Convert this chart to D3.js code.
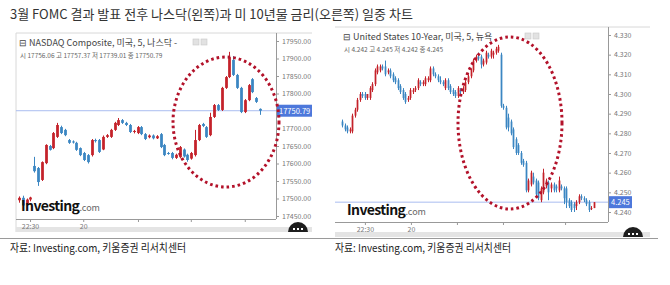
<!DOCTYPE html>
<html>
<head>
<meta charset="utf-8">
<script src="https://cdn.jsdelivr.net/npm/d3@7/dist/d3.min.js"></script>
<style>
  body { margin: 0; background: #fff; }
  text { font-family: "Noto Sans CJK KR", "Noto Sans", sans-serif; }
</style>
</head>
<body>
<script>
// NASDAQ Composite, 5-min candles [open, high, low, close]
const nasdaqOHLC = [
  [17495,17506,17488,17502],[17502,17508,17476,17480],[17482,17500,17478,17497],[17497,17505,17492,17503],
  [17593,17619,17574,17578],[17587,17590,17536,17547],[17553,17606,17550,17604],[17601,17655,17598,17653],
  [17650,17653,17637,17639],[17644,17690,17641,17687],[17676,17716,17673,17710],[17704,17708,17684,17687],
  [17696,17699,17678,17681],[17667,17670,17656,17659],[17663,17666,17657,17660],[17659,17662,17636,17639],
  [17644,17646,17621,17624],[17630,17633,17607,17610],[17624,17627,17600,17604],[17624,17670,17620,17667],
  [17667,17671,17660,17664],[17667,17670,17630,17633],[17640,17680,17638,17676],[17676,17684,17673,17681],
  [17676,17699,17673,17696],[17696,17719,17693,17716],[17710,17730,17707,17724],[17724,17727,17713,17716],
  [17716,17719,17707,17710],[17710,17713,17687,17690],[17690,17696,17686,17693],[17687,17707,17684,17704],
  [17704,17707,17681,17684],[17684,17687,17667,17670],[17675,17683,17672,17680],[17680,17683,17669,17672],
  [17672,17681,17670,17678],[17684,17687,17644,17647],[17653,17656,17621,17624],[17630,17633,17625,17628],
  [17630,17633,17612,17616],[17616,17628,17613,17625],[17618,17650,17615,17647],[17640,17643,17617,17620],
  [17625,17628,17605,17610],[17614,17633,17611,17630],[17624,17696,17620,17667],[17667,17713,17664,17710],
  [17713,17716,17704,17707],[17704,17707,17673,17676],[17681,17745,17678,17733],[17733,17770,17730,17767],
  [17767,17770,17750,17753],[17753,17819,17750,17816],[17816,17850,17813,17847],[17847,17919,17844,17904],
  [17896,17907,17850,17853],[17853,17856,17813,17816],[17816,17819,17744,17747],[17747,17784,17744,17781],
  [17781,17827,17778,17824],[17841,17844,17801,17804],[17787,17790,17773,17776],[17756.06,17757.37,17739.01,17750.79]
];
// 17750 is covered by the last-price tag, so it is not listed
const nasdaqYTicks = [17450,17500,17550,17600,17650,17700,17800,17850,17900,17950];
const nasdaqLast = 17750.79;
const nasdaqTimeTicks = [3.4,17.3,31.6,45.4,59.5];
const nasdaqTimeLabels = ["22:30","20","","",""];

// US 10-Year yield, 5-min candles [open, high, low, close]
const ustOHLC = [
  [4.286,4.287,4.283,4.284],[4.284,4.285,4.281,4.282],[4.283,4.284,4.280,4.281],[4.281,4.283,4.280,4.282],
  [4.281,4.290,4.280,4.289],[4.289,4.293,4.288,4.292],[4.292,4.298,4.291,4.297],[4.297,4.301,4.296,4.300],
  [4.300,4.301,4.298,4.299],[4.300,4.301,4.297,4.298],[4.298,4.300,4.297,4.300],[4.298,4.304,4.297,4.303],
  [4.302,4.306,4.301,4.305],[4.305,4.313,4.304,4.312],[4.311,4.315,4.310,4.314],[4.312,4.315,4.311,4.314],
  [4.314,4.315,4.312,4.313],[4.314,4.317,4.309,4.310],[4.311,4.313,4.310,4.312],[4.312,4.313,4.308,4.309],
  [4.310,4.311,4.306,4.307],[4.308,4.309,4.305,4.306],[4.307,4.308,4.302,4.303],[4.304,4.305,4.300,4.301],
  [4.302,4.303,4.297,4.298],[4.300,4.301,4.295,4.296],[4.297,4.299,4.296,4.298],[4.298,4.303,4.297,4.302],
  [4.301,4.303,4.300,4.302],[4.302,4.304,4.301,4.303],[4.303,4.308,4.302,4.307],[4.306,4.307,4.304,4.305],
  [4.305,4.307,4.304,4.306],[4.305,4.309,4.304,4.308],[4.307,4.309,4.306,4.308],[4.307,4.314,4.306,4.313],
  [4.313,4.314,4.309,4.310],[4.310,4.311,4.308,4.309],[4.309,4.310,4.306,4.307],[4.307,4.309,4.305,4.306],
  [4.306,4.307,4.304,4.305],[4.303,4.308,4.302,4.307],[4.307,4.308,4.302,4.303],[4.304,4.305,4.300,4.301],
  [4.302,4.303,4.299,4.300],[4.301,4.302,4.298,4.299],[4.299,4.304,4.298,4.303],[4.302,4.303,4.300,4.301],
  [4.301,4.304,4.300,4.302],[4.302,4.307,4.301,4.306],[4.306,4.310,4.305,4.309],[4.309,4.313,4.308,4.312],
  [4.312,4.318,4.311,4.317],[4.317,4.320,4.316,4.319],[4.319,4.321,4.317,4.318],[4.319,4.320,4.313,4.315],
  [4.315,4.318,4.314,4.317],[4.316,4.322,4.315,4.321],[4.320,4.321,4.318,4.319],[4.319,4.323,4.318,4.322],
  [4.320,4.322,4.318,4.321],[4.321,4.324,4.320,4.323],[4.322,4.325,4.321,4.324],[4.320,4.321,4.293,4.294],
  [4.294,4.295,4.292,4.293],[4.293,4.294,4.282,4.283],[4.288,4.290,4.281,4.283],[4.286,4.287,4.279,4.280],
  [4.282,4.283,4.272,4.273],[4.277,4.278,4.269,4.270],[4.274,4.275,4.269,4.270],[4.270,4.271,4.264,4.265],
  [4.266,4.267,4.263,4.264],[4.265,4.266,4.250,4.251],[4.251,4.257,4.250,4.256],[4.254,4.261,4.253,4.260],
  [4.258,4.260,4.254,4.255],[4.256,4.257,4.248,4.249],[4.255,4.256,4.246,4.247],[4.246,4.253,4.245,4.252],
  [4.250,4.262,4.249,4.260],[4.253,4.257,4.252,4.256],[4.255,4.256,4.246,4.250],[4.252,4.255,4.250,4.254],
  [4.254,4.255,4.250,4.251],[4.253,4.254,4.250,4.252],[4.251,4.258,4.250,4.256],[4.253,4.254,4.251,4.252],
  [4.252,4.253,4.244,4.247],[4.252,4.253,4.242,4.245],[4.246,4.247,4.242,4.243],[4.245,4.246,4.240,4.241],
  [4.244,4.245,4.240,4.242],[4.243,4.246,4.241,4.245],[4.245,4.249,4.244,4.248],[4.248,4.249,4.246,4.247],
  [4.247,4.248,4.245,4.246],[4.246,4.247,4.243,4.244],[4.245,4.246,4.240,4.241],[4.242,4.243,4.241,4.242],
  [4.242,4.245,4.242,4.245]
];
const ustYTicks = [4.240,4.250,4.260,4.270,4.280,4.290,4.300,4.310,4.320,4.330];
const ustLast = 4.245;
const ustTimeTicks = [9.5,27.8,46.1,64.4,89.1];
const ustTimeLabels = ["22:30","20","","",""];

const title = "3월 FOMC 결과 발표 전후 나스닥(왼쪽)과 미 10년물 금리(오른쪽) 일중 차트";
const source = "자료: Investing.com, 키움증권 리서치센터";

const w = 670;
const h = 285;
const upColor = "#c4222a";
const downColor = "#3b86c2";
const circleColor = "#b3122a";

const svg = d3.select("body").append("svg")
  .attr("width", w)
  .attr("height", h);

svg.append("text")
  .attr("x", 10).attr("y", 19)
  .attr("font-size", 13)
  .attr("fill", "#333")
  .text(title);

function drawPanel(p){
  const g = svg.append("g");

  // frame bits
  if(p.frameLeft){
    g.append("line").attr("x1", p.left).attr("x2", p.left).attr("y1", p.top).attr("y2", p.bandY + p.bandH)
      .attr("stroke", "#d8d8d8");
  }
  g.append("line").attr("x1", p.left).attr("x2", p.frameRight).attr("y1", p.top).attr("y2", p.top)
    .attr("stroke", "#d8d8d8");
  g.append("rect").attr("x", p.left).attr("y", p.bandY).attr("width", p.frameRight - p.left).attr("height", p.bandH)
    .attr("fill", "#e4e4e4");

  const x = d3.scaleLinear().domain([0, p.data.length]).range(p.xRange);
  const y = d3.scaleLinear().domain(p.yDomain).range(p.yRange);
  const step = x(1) - x(0);
  const bw = Math.max(1.4, step * p.bodyRatio);

  // last price line
  g.append("line")
    .attr("x1", p.left).attr("x2", p.axisX)
    .attr("y1", y(p.last)).attr("y2", y(p.last))
    .attr("stroke", "#a9bdf0").attr("stroke-width", 1);

  //candles
  const c = g.selectAll(".candle")
    .data(p.data)
    .enter()
    .append("g")
    .classed("candle", true)
    .attr("fill", d => d[3] >= d[0] ? upColor : downColor)
    .attr("stroke", d => d[3] >= d[0] ? upColor : downColor);

  c.append("line")
    .attr("x1", (d,i) => Math.round(x(i + 0.5)) + 0.5)
    .attr("x2", (d,i) => Math.round(x(i + 0.5)) + 0.5)
    .attr("y1", d => y(d[1]))
    .attr("y2", d => y(d[2]))
    .attr("stroke-width", 1);

  c.append("rect")
    .attr("x", (d,i) => Math.round(x(i + 0.5)) + 0.5 - bw / 2)
    .attr("width", bw)
    .attr("y", d => y(Math.max(d[0], d[3])))
    .attr("height", d => Math.max(1, Math.abs(y(d[0]) - y(d[3]))))
    .attr("stroke", "none");

  // y axis
  const yAxis = d3.axisRight(y).tickValues(p.yTicks).tickFormat(d3.format(p.fmt)).tickSize(3).tickPadding(3);
  const ya = g.append("g").attr("transform", "translate(" + p.axisX + ",0)").call(yAxis);
  ya.select(".domain").remove();
  ya.selectAll("line").attr("stroke", "#999");
  ya.selectAll("text").attr("font-size", 7).attr("fill", "#777");
  g.append("line").attr("x1", p.axisX + 0.5).attr("x2", p.axisX + 0.5).attr("y1", p.top).attr("y2", p.bottom)
    .attr("stroke", "#999");

  // x axis
  const xAxis = d3.axisBottom(x).tickValues(p.timeTicks).tickFormat((d,i) => p.timeLabels[i]).tickSize(3).tickPadding(2);
  const xa = g.append("g").attr("transform", "translate(0," + p.bottom + ")").call(xAxis);
  xa.select(".domain").remove();
  xa.selectAll("line").attr("stroke", "#999");
  xa.selectAll("text").attr("font-size", 7).attr("fill", "#777");
  g.append("line").attr("x1", p.left).attr("x2", p.axisX).attr("y1", p.bottom + 0.5).attr("y2", p.bottom + 0.5)
    .attr("stroke", "#999");

  // last price tag
  g.append("rect").attr("x", p.axisX + 1).attr("y", y(p.last) - 6).attr("width", p.tagW).attr("height", 12)
    .attr("fill", "#4d78db");
  g.append("text").attr("x", p.axisX + 3).attr("y", y(p.last) + 3)
    .attr("font-size", 7.5).attr("fill", "#fff").text(d3.format(p.fmt)(p.last));

  // legend
  g.append("text").attr("x", p.legendX).attr("y", p.legendY)
    .attr("font-size", 9).attr("fill", "#444").text(p.name);
  g.append("text").attr("x", p.legendX + 1).attr("y", p.legendY + 12)
    .attr("font-size", 6.5).attr("fill", "#666").text(p.ohlcText);
  [0, 8].forEach(off => {
    g.append("rect").attr("x", p.iconX + off).attr("y", p.legendY - 7).attr("width", 6).attr("height", 6)
      .attr("fill", "#e2e2e2").attr("stroke", "#c8c8c8").attr("stroke-width", 0.6);
  });

  // logo
  const logo = g.append("text").attr("x", p.logoX).attr("y", p.logoY)
    .attr("font-family", "Roboto, 'Liberation Sans', sans-serif");
  logo.append("tspan").attr("font-size", 14).attr("font-weight", "bold").attr("fill", "#111")
    .attr("letter-spacing", -0.6).text("Investing");
  logo.append("tspan").attr("font-size", 9).attr("fill", "#666").text(".com");

  // "..." button
  const bx = p.btnX, by = p.btnY, r = 10;
  g.append("path").attr("d", "M" + (bx - r) + "," + by + " A" + r + "," + r + " 0 0 1 " + (bx + r) + "," + by + " Z")
    .attr("fill", "#1e1e1e");
  [-4, 0, 4].forEach(dx => {
    g.append("rect").attr("x", bx + dx - 1).attr("y", by - 4).attr("width", 2).attr("height", 2).attr("fill", "#fff");
  });

  // dotted highlight ellipse
  g.append("ellipse").attr("cx", p.ell[0]).attr("cy", p.ell[1]).attr("rx", p.ell[2]).attr("ry", p.ell[3])
    .attr("fill", "none").attr("stroke", circleColor).attr("stroke-width", 3)
    .attr("stroke-dasharray", "2.6,3");

  // source
  svg.append("text").attr("x", p.sourceX).attr("y", 252)
    .attr("font-size", 11).attr("fill", "#222")
    .attr("textLength", 176).attr("lengthAdjust", "spacingAndGlyphs")
    .text(source);
}

drawPanel({
  data: nasdaqOHLC, yDomain: [17450, 17950], yRange: [216, 41], yTicks: nasdaqYTicks,
  fmt: ".2f", last: nasdaqLast, timeTicks: nasdaqTimeTicks, timeLabels: nasdaqTimeLabels,
  xRange: [17, 262], bodyRatio: 0.72,
  left: 16, top: 33, bottom: 219, axisX: 276, frameRight: 312, frameLeft: true,
  bandY: 227, bandH: 5, tagW: 35,
  name: "⊟ NASDAQ Composite, 미국, 5, 나스닥 -",
  ohlcText: "시 17756.06  고 17757.37  저 17739.01  종 17750.79",
  legendX: 19, legendY: 46, iconX: 193,
  logoX: 21, logoY: 211, btnX: 298, btnY: 232,
  ell: [226, 122, 53, 65], sourceX: 10
});

drawPanel({
  data: ustOHLC, yDomain: [4.240, 4.330], yRange: [212, 35], yTicks: ustYTicks,
  fmt: ".3f", last: ustLast, timeTicks: ustTimeTicks, timeLabels: ustTimeLabels,
  xRange: [341, 595], bodyRatio: 0.7,
  left: 335, top: 27, bottom: 222, axisX: 608, frameRight: 650, frameLeft: false,
  bandY: 232, bandH: 5, tagW: 23,
  name: "⊟ United States 10-Year, 미국, 5, 뉴욕",
  ohlcText: "시 4.242  고 4.245  저 4.242  종 4.245",
  legendX: 343, legendY: 40, iconX: 525,
  logoX: 347, logoY: 215, btnX: 633, btnY: 237,
  ell: [510, 123, 52, 86], sourceX: 335
});

// separator under the charts
svg.append("line").attr("x1", 0).attr("x2", 658).attr("y1", 238.5).attr("y2", 238.5)
  .attr("stroke", "#9a9a9a");
</script>
</body>
</html>
